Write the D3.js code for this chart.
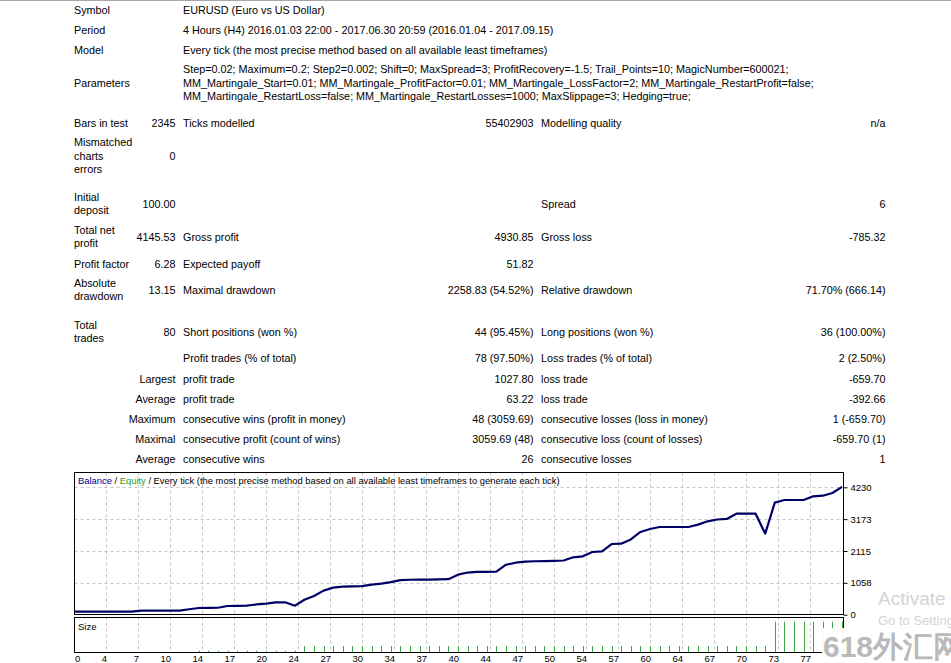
<!DOCTYPE html>
<html>
<head>
<meta charset="utf-8">
<script src="https://cdn.jsdelivr.net/npm/d3@7"></script>
<style>
  html, body { margin: 0; padding: 0; background: #fff; }
  svg { display: block; }
  text { font-family: "Liberation Sans", Arial, sans-serif; }
</style>
</head>
<body>
<svg width="951" height="663"></svg>
<script>
// ---- report table text ----
let col1 = [["Symbol"], ["Period"], ["Model"], ["Parameters"], ["Bars in test"], ["Mismatched", "charts", "errors"],
  ["Initial", "deposit"], ["Total net", "profit"], ["Profit factor"], ["Absolute", "drawdown"], ["Total", "trades"],
  [], [], [], [], [], []];
let col2 = ["", "", "", "", "2345", "0", "100.00", "4145.53", "6.28", "13.15", "80", "",
  "Largest", "Average", "Maximum", "Maximal", "Average"];
let col3 = [
  ["EURUSD (Euro vs US Dollar)"],
  ["4 Hours (H4) 2016.01.03 22:00 - 2017.06.30 20:59 (2016.01.04 - 2017.09.15)"],
  ["Every tick (the most precise method based on all available least timeframes)"],
  ["Step=0.02; Maximum=0.2; Step2=0.002; Shift=0; MaxSpread=3; ProfitRecovery=-1.5; Trail_Points=10; MagicNumber=600021;",
   "MM_Martingale_Start=0.01; MM_Martingale_ProfitFactor=0.01; MM_Martingale_LossFactor=2; MM_Martingale_RestartProfit=false;",
   "MM_Martingale_RestartLoss=false; MM_Martingale_RestartLosses=1000; MaxSlippage=3; Hedging=true;"],
  ["Ticks modelled"], [], [], ["Gross profit"], ["Expected payoff"], ["Maximal drawdown"], ["Short positions (won %)"],
  ["Profit trades (% of total)"], ["profit trade"], ["profit trade"], ["consecutive wins (profit in money)"],
  ["consecutive profit (count of wins)"], ["consecutive wins"]];
let col4 = ["", "", "", "", "55402903", "", "", "4930.85", "51.82", "2258.83 (54.52%)", "44 (95.45%)", "78 (97.50%)",
  "1027.80", "63.22", "48 (3059.69)", "3059.69 (48)", "26"];
let col5 = ["", "", "", "", "Modelling quality", "", "Spread", "Gross loss", "", "Relative drawdown", "Long positions (won %)",
  "Loss trades (% of total)", "loss trade", "loss trade", "consecutive losses (loss in money)",
  "consecutive loss (count of losses)", "consecutive losses"];
let col6 = ["", "", "", "", "n/a", "", "6", "-785.32", "", "71.70% (666.14)", "36 (100.00%)", "2 (2.50%)",
  "-659.70", "-392.66", "1 (-659.70)", "-659.70 (1)", "1"];

// ---- chart data (trade number -> balance, lot size) ----
let balance = [100, 100, 100, 100, 100, 100, 100, 133, 133, 133, 133, 133, 180, 222, 225, 230, 289, 295, 299, 340,
  370, 412, 412, 299, 498, 620, 800, 900, 930, 940, 950, 1000, 1030, 1080, 1150, 1160, 1162, 1165, 1170, 1180,
  1330, 1400, 1420, 1425, 1430, 1660, 1726, 1760, 1775, 1780, 1790, 1800, 1906, 1939, 2082, 2105, 2347, 2357, 2500,
  2746, 2845, 2912, 2912, 2912, 2912, 2990, 3100, 3160, 3180, 3353, 3353, 3353, 2693, 3720, 3808, 3808, 3808, 3931,
  3951, 4041, 4245];
let lots = [0, 0, 0, 0, 0, 0, 0, 0, 0, 0, 0, 0, 0.01, 0.01, 0.01, 0.01, 0.01, 0.01, 0.01, 0.01, 0.01, 0.01, 0.01,
  0.05, 0.05, 0.05, 0.05, 0.05, 0.05, 0.05, 0.05, 0.05, 0.05, 0.05, 0.05, 0.05, 0.05, 0.05, 0.05, 0.05, 0.05, 0.05,
  0.05, 0.05, 0.05, 0.05, 0.05, 0.05, 0.05, 0.05, 0.05, 0.05, 0.05, 0.05, 0.05, 0.05, 0.05, 0.05, 0.05, 0.05, 0.05,
  0.05, 0.05, 0.05, 0.05, 0.05, 0.05, 0.05, 0.05, 0.05, 0.05, 0.05, 0.25, 0.25, 0.25, 0.25, 0.25, 0.25, 0.25, 0.25];
let yTicks = [0, 1058, 2115, 3173, 4230];
let xTickLabels = ["0", "4", "7", "10", "14", "17", "20", "24", "27", "30", "34", "37", "40", "44", "47", "50", "54",
  "57", "60", "64", "67", "70", "73", "77"];
let gridSteps = 24; // x grid divisions over the 80 trades

let svg = d3.select("svg");

svg.append("line").attr("x1", 0).attr("x2", 951).attr("y1", 0.5).attr("y2", 0.5)
  .attr("stroke", "#a8a8a8");

// ---- report table ----
let rowY = [10, 30, 50, 83, 123, 156, 204, 237, 264, 290, 332, 358, 379, 399, 419, 439, 459];
let lineGap = 13.3;
let table = svg.append("g").attr("font-size", "10.8px").attr("fill", "#000");

function multiLine(lines, x, cy, anchor) {
  let y0 = cy - (lines.length - 1) * lineGap / 2;
  lines.forEach(function(s, i) {
    table.append("text")
      .attr("x", x).attr("y", y0 + i * lineGap)
      .attr("dy", "0.35em")
      .attr("text-anchor", anchor)
      .text(s);
  });
}

rowY.forEach(function(cy, r) {
  multiLine(col1[r], 74, cy, "start");
  multiLine([col2[r]], 175.5, cy, "end");
  multiLine(col3[r], 183, cy, "start");
  multiLine([col4[r]], 533.5, cy, "end");
  multiLine([col5[r]], 541, cy, "start");
  multiLine([col6[r]], 885.5, cy, "end");
});

// ---- chart ----
let plotLeft = 74.5, plotRight = 843.5, plotTop = 472.5, plotBottom = 614.5;
let sizeTop = 617.5, sizeBottom = 652.5;

let x = d3.scaleLinear().domain([0, 80]).range([74, 842]);
let y = d3.scaleLinear().domain([0, 4230]).range([614.7, 487.3]);
let ySize = d3.scaleLinear().domain([0, 0.28]).range([652, 618]);

let chart = svg.append("g");

// vertical dashed grid across both panels
let gridX = d3.range(gridSteps + 1).map(k => x(k * 80 / gridSteps));
chart.selectAll(".vgrid")
  .data(gridX.slice(1, -1))
  .join("line")
  .attr("class", "vgrid")
  .attr("x1", d => Math.round(d) + 0.5).attr("x2", d => Math.round(d) + 0.5)
  .attr("y1", plotTop).attr("y2", sizeBottom)
  .attr("stroke", "#c4c4c4")
  .attr("stroke-dasharray", "3,3");

// horizontal dashed grid
chart.selectAll(".hgrid")
  .data(yTicks.slice(1))
  .join("line")
  .attr("class", "hgrid")
  .attr("x1", plotLeft).attr("x2", plotRight)
  .attr("y1", d => Math.round(y(d)) + 0.5).attr("y2", d => Math.round(y(d)) + 0.5)
  .attr("stroke", "#c4c4c4")
  .attr("stroke-dasharray", "3,3");

// balance line
let line = d3.line()
  .x((d, i) => x(i))
  .y(d => y(d));

chart.append("path")
  .datum(balance)
  .attr("d", line)
  .attr("fill", "none")
  .attr("stroke", "#000066")
  .attr("stroke-width", 2.2)
  .attr("stroke-linejoin", "round");

// lot size bars
chart.selectAll(".lot")
  .data(lots)
  .join("line")
  .attr("class", "lot")
  .attr("x1", (d, i) => Math.round(x(i + 1)) + 0.5)
  .attr("x2", (d, i) => Math.round(x(i + 1)) + 0.5)
  .attr("y1", ySize(0))
  .attr("y2", d => ySize(d))
  .attr("stroke", "#3fa33f")
  .attr("stroke-width", 1)
  .attr("display", d => d > 0 ? null : "none");

// frames
chart.append("rect")
  .attr("x", plotLeft).attr("y", plotTop)
  .attr("width", plotRight - plotLeft).attr("height", plotBottom - plotTop)
  .attr("fill", "none").attr("stroke", "#000");
chart.append("rect")
  .attr("x", plotLeft).attr("y", sizeTop)
  .attr("width", plotRight - plotLeft).attr("height", sizeBottom - sizeTop)
  .attr("fill", "none").attr("stroke", "#000");

// y axis on the right
let yAxis = d3.axisRight(y)
  .tickValues(yTicks)
  .tickSize(4)
  .tickPadding(3)
  .tickFormat(d3.format("d"));
let yg = chart.append("g")
  .attr("transform", `translate(${plotRight},0)`)
  .call(yAxis);
yg.select(".domain").remove();
yg.selectAll("text").attr("font-size", "9.5px").attr("font-family", "Liberation Sans, Arial, sans-serif");

// x labels under size panel
chart.selectAll(".xlab")
  .data(xTickLabels)
  .join("text")
  .attr("class", "xlab")
  .attr("x", (d, i) => i === 0 ? 75 : gridX[i] + 1)
  .attr("y", 659)
  .attr("dy", "0.35em")
  .attr("text-anchor", (d, i) => i === 0 ? "start" : "end")
  .attr("font-size", "9.5px")
  .text(d => d);

// chart captions
let caption = chart.append("text")
  .attr("x", 78).attr("y", 481)
  .attr("dy", "0.35em")
  .attr("font-size", "9.4px");
caption.append("tspan").attr("fill", "#000080").text("Balance");
caption.append("tspan").attr("fill", "#000").text(" / ");
caption.append("tspan").attr("fill", "#1fa01f").text("Equity");
caption.append("tspan").attr("fill", "#000")
  .text(" / Every tick (the most precise method based on all available least timeframes to generate each tick)");

chart.append("text")
  .attr("x", 78).attr("y", 627)
  .attr("dy", "0.35em")
  .attr("font-size", "9.5px")
  .text("Size");

// screenshot overlays
svg.append("text")
  .attr("x", 878).attr("y", 605)
  .attr("font-size", "19px")
  .attr("fill", "#d4d4d4")
  .attr("font-family", "Open Sans, sans-serif")
  .text("Activate Windows");
svg.append("text")
  .attr("x", 878).attr("y", 625)
  .attr("font-size", "13px")
  .attr("fill", "#d4d4d4")
  .attr("font-family", "Open Sans, sans-serif")
  .text("Go to Settings to activate Windows.");
svg.append("rect")
  .attr("x", 822).attr("y", 628)
  .attr("width", 129).attr("height", 35)
  .attr("fill", "#fff").attr("opacity", 0.96);
svg.append("text")
  .attr("x", 823).attr("y", 657)
  .attr("font-size", "30px")
  .attr("font-weight", "bold")
  .attr("fill", "#b9b9b9")
  .attr("font-family", "Noto Sans CJK SC, sans-serif")
  .text("618外汇网");
</script>
</body>
</html>
